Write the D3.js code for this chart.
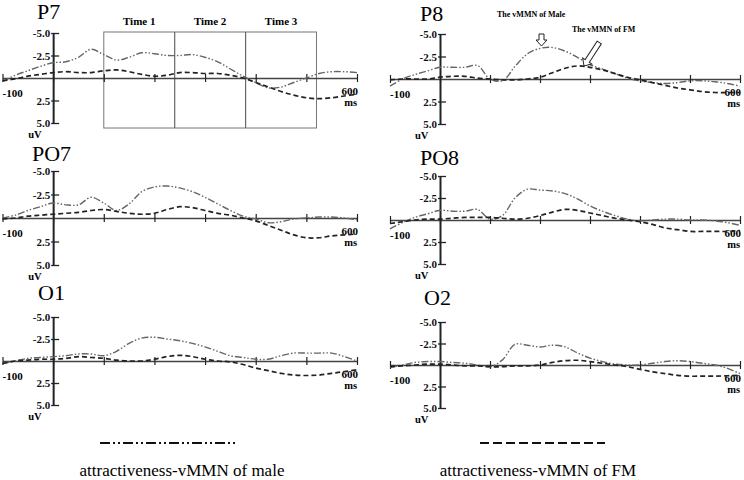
<!DOCTYPE html>
<html>
<head>
<meta charset="utf-8">
<script src="https://cdn.jsdelivr.net/npm/d3@7"></script>
<style>
  body { margin: 0; background: #fff; }
  svg { display: block; font-family: "Liberation Serif", "Times New Roman", serif; }
</style>
</head>
<body>
<svg id="chart" width="744" height="480"></svg>
<script>
// time points (ms)
const times = [-100, -75, -50, -25, 0, 25, 50, 75, 100, 125, 150, 175, 200, 225, 250,
    275, 300, 325, 350, 375, 400, 425, 450, 475, 500, 525, 550, 575, 600];

// uV values, negative is drawn up
const p7Male = [0.4, -0.3, -0.8, -1.3, -1.7, -1.8, -2.3, -3.2, -2.6, -2.0, -2.3, -2.8, -2.7, -2.5, -2.5,
    -2.6, -2.3, -1.8, -1.0, -0.2, 0.5, 1.1, 1.0, 0.5, 0.0, -0.5, -0.7, -0.7, -0.6];
const p7FM = [0.3, 0.1, -0.2, -0.4, -0.6, -0.7, -0.6, -0.6, -0.8, -0.9, -0.7, -0.4, -0.2, -0.3, -0.6,
    -0.6, -0.5, -0.5, -0.3, 0.0, 0.5, 1.0, 1.5, 1.9, 2.2, 2.3, 2.2, 2.0, 1.8];
const p8Male = [0.8, 0.0, -0.5, -0.9, -1.3, -1.3, -1.3, -1.5, 0.0, 0.2, -1.4, -2.8, -3.4, -3.5, -3.1,
    -2.4, -1.6, -1.1, -0.6, -0.1, 0.2, 0.4, 0.5, 0.4, 0.2, 0.2, 0.3, 0.5, 0.8];
const p8FM = [0.1, 0.0, 0.0, 0.0, -0.2, -0.3, -0.3, -0.1, 0.0, 0.1, 0.1, 0.0, -0.2, -0.7, -1.2,
    -1.45, -1.3, -1.0, -0.6, -0.2, 0.1, 0.4, 0.7, 1.0, 1.2, 1.4, 1.5, 1.5, 1.5];
const po7Male = [0.0, -0.3, -0.8, -1.2, -1.6, -1.4, -1.4, -2.2, -1.6, -0.8, -1.5, -2.8, -3.3, -3.4, -3.2,
    -2.8, -2.2, -1.5, -0.8, -0.2, 0.1, 0.5, 0.4, 0.1, 0.0, -0.1, -0.1, 0.0, 0.2];
const po7FM = [0.1, 0.0, -0.2, -0.3, -0.4, -0.5, -0.6, -0.8, -0.9, -0.7, -0.5, -0.4, -0.5, -0.9, -1.2,
    -1.1, -0.8, -0.5, -0.3, 0.0, 0.3, 0.8, 1.3, 1.8, 2.1, 2.1, 1.9, 1.8, 1.7];
const po8Male = [1.0, 0.3, -0.3, -0.7, -1.1, -1.0, -1.0, -1.2, -0.1, -0.5, -2.5, -3.5, -3.4, -3.3, -3.0,
    -2.4, -1.6, -1.0, -0.5, -0.1, 0.1, 0.0, -0.1, -0.1, 0.0, 0.0, 0.1, 0.3, 0.6];
const po8FM = [0.4, 0.2, 0.0, -0.1, -0.1, -0.2, -0.3, -0.3, -0.3, -0.2, -0.1, -0.2, -0.5, -0.9, -1.2,
    -1.1, -0.8, -0.5, -0.2, 0.0, 0.2, 0.5, 0.9, 1.1, 1.3, 1.3, 1.3, 1.3, 1.2];
const o1Male = [0.3, 0.0, -0.3, -0.4, -0.5, -0.6, -0.8, -0.8, -0.6, -1.1, -2.0, -2.6, -2.7, -2.5, -2.3,
    -2.0, -1.6, -1.1, -0.6, -0.4, -0.2, -0.2, -0.6, -0.9, -0.9, -0.9, -0.9, -0.5, 0.0];
const o1FM = [0.3, 0.0, -0.1, -0.2, -0.2, -0.3, -0.5, -0.4, -0.3, -0.1, 0.0, 0.0, -0.2, -0.5, -0.65,
    -0.5, -0.2, 0.0, 0.1, 0.4, 0.8, 1.1, 1.4, 1.6, 1.65, 1.6, 1.4, 1.2, 1.0];
const o2Male = [0.3, 0.0, -0.3, -0.4, -0.4, -0.3, -0.2, 0.0, 0.2, -0.6, -2.4, -2.3, -2.1, -2.3, -2.1,
    -1.4, -0.8, -0.4, -0.1, 0.0, 0.0, -0.2, -0.4, -0.5, -0.4, -0.2, 0.0, 0.4, 1.0];
const o2FM = [0.2, 0.1, 0.0, -0.1, -0.1, 0.0, 0.1, 0.1, 0.2, 0.2, 0.1, 0.1, 0.0, -0.3, -0.5,
    -0.55, -0.4, -0.2, 0.0, 0.2, 0.5, 0.8, 1.0, 1.2, 1.3, 1.3, 1.3, 1.25, 1.2];

// axis ticks
const xTicks = [-100, 0, 100, 200, 300, 400, 500, 600];
const yTicks = [-5, -2.5, 2.5, 5];
const yTickLabels = ["-5.0", "-2.5", "2.5", "5.0"];

// time windows drawn on P7
const windowEdges = [100, 240, 380, 520];
const windowLabels = ["Time 1", "Time 2", "Time 3"];

const legendLabels = ["attractiveness-vMMN of male", "attractiveness-vMMN of FM"];

const panels = [
    { name: "P7", male: p7Male, fm: p7FM, x: [2.5, 357], y: [33, 123], tx: 37, ty: 19 },
    { name: "P8", male: p8Male, fm: p8FM, x: [390, 740], y: [34, 124], tx: 420, ty: 21 },
    { name: "PO7", male: po7Male, fm: po7FM, x: [2.5, 357], y: [171, 265], tx: 32, ty: 161 },
    { name: "PO8", male: po8Male, fm: po8FM, x: [390, 740], y: [176, 264], tx: 420, ty: 165 },
    { name: "O1", male: o1Male, fm: o1FM, x: [2.5, 357], y: [317, 405], tx: 38, ty: 300 },
    { name: "O2", male: o2Male, fm: o2FM, x: [390, 740], y: [322, 408], tx: 424, ty: 305 }
];

const maleDash = "7,2,1.5,2,1.5,2";
const fmDash = "5,3";

const svg = d3.select("#chart");

panels.forEach(p => {
    const xScale = d3.scaleLinear().domain([-100, 600]).range(p.x);
    const yScale = d3.scaleLinear().domain([-5, 5]).range(p.y);
    const g = svg.append("g");

    g.append("text")
        .attr("x", p.tx)
        .attr("y", p.ty)
        .attr("font-size", 22)
        .text(p.name);

    // time boxes (only P7)
    if (p.name === "P7") {
        const top = 32, bottom = 128;
        g.append("rect")
            .attr("x", xScale(windowEdges[0]))
            .attr("y", top)
            .attr("width", xScale(windowEdges[3]) - xScale(windowEdges[0]))
            .attr("height", bottom - top)
            .attr("fill", "none")
            .attr("stroke", "#777")
            .attr("stroke-width", 1);
        g.selectAll(".win")
            .data(windowEdges.slice(1, 3))
            .enter()
            .append("line")
            .attr("x1", d => xScale(d))
            .attr("x2", d => xScale(d))
            .attr("y1", top)
            .attr("y2", bottom)
            .attr("stroke", "#666")
            .attr("stroke-width", 1.2);
        g.selectAll(".winlab")
            .data(windowLabels)
            .enter()
            .append("text")
            .attr("x", (d, i) => (xScale(windowEdges[i]) + xScale(windowEdges[i + 1])) / 2)
            .attr("y", 25)
            .attr("text-anchor", "middle")
            .attr("font-size", 11)
            .attr("font-weight", "bold")
            .text(d => d);
    }

    // x axis along 0 uV
    const xAxis = g.append("g")
        .attr("transform", "translate(0," + yScale(0) + ")")
        .call(d3.axisBottom(xScale).tickValues(xTicks).tickSizeInner(4).tickSizeOuter(0).tickFormat(""));
    xAxis.select(".domain").attr("stroke", "#444").attr("stroke-width", 1.4);
    xAxis.selectAll(".tick line").attr("y1", -4).attr("stroke", "#222").attr("stroke-width", 1.2);

    // y axis at 0 ms
    const yAxis = g.append("g")
        .attr("transform", "translate(" + xScale(0) + ",0)")
        .call(d3.axisLeft(yScale).tickValues(yTicks).tickSizeInner(-6).tickSizeOuter(0).tickPadding(3)
            .tickFormat((d, i) => yTickLabels[i]));
    yAxis.select(".domain").attr("stroke", "#222").attr("stroke-width", 2);
    yAxis.selectAll(".tick line").attr("x1", -2).attr("stroke", "#222").attr("stroke-width", 1.3);
    yAxis.selectAll(".tick text")
        .attr("font-family", "Liberation Serif, serif")
        .attr("font-size", 11)
        .attr("font-weight", "bold")
        .attr("fill", "#111");

    g.append("text")
        .attr("x", xScale(0) - 25)
        .attr("y", yScale(5) + 15)
        .attr("font-size", 10.5)
        .attr("font-weight", "bold")
        .text("uV");

    g.append("text")
        .attr("x", xScale(-100))
        .attr("y", yScale(0) + 19)
        .attr("font-size", 11)
        .attr("font-weight", "bold")
        .text("-100");
    g.append("text")
        .attr("x", xScale(600) + 1)
        .attr("y", yScale(0) + 17)
        .attr("text-anchor", "end")
        .attr("font-size", 11)
        .attr("font-weight", "bold")
        .text("600");
    g.append("text")
        .attr("x", xScale(600))
        .attr("y", yScale(0) + 28)
        .attr("text-anchor", "end")
        .attr("font-size", 10.5)
        .attr("font-weight", "bold")
        .text("ms");

    const line = d3.line()
        .x((d, i) => xScale(times[i]))
        .y(d => yScale(d))
        .curve(d3.curveCatmullRom);

    g.append("path")
        .attr("d", line(p.male))
        .attr("fill", "none")
        .attr("stroke", "#666")
        .attr("stroke-width", 1.4)
        .attr("stroke-dasharray", maleDash);

    g.append("path")
        .attr("d", line(p.fm))
        .attr("fill", "none")
        .attr("stroke", "#222")
        .attr("stroke-width", 1.7)
        .attr("stroke-dasharray", fmDash);

    // arrows on P8
    if (p.name === "P8") {
        g.append("text")
            .attr("x", 497).attr("y", 17)
            .attr("font-size", 8).attr("font-weight", "bold")
            .text("The vMMN of Male");
        g.append("text")
            .attr("x", 572).attr("y", 32)
            .attr("font-size", 8).attr("font-weight", "bold")
            .text("The vMMN of FM");
        // hollow arrow shape pointing along +y, tip at origin
        const arrow = len => "M0,0 L-5.5,-6 L-2.5,-6 L-2.5," + (-len) + " L2.5," + (-len) + " L2.5,-6 L5.5,-6 Z";
        g.append("path")
            .attr("d", arrow(12))
            .attr("transform", "translate(" + xScale(203) + "," + 46 + ")")
            .attr("fill", "#fff").attr("stroke", "#222").attr("stroke-width", 1);
        g.append("path")
            .attr("d", arrow(28))
            .attr("transform", "translate(" + xScale(288) + "," + 66 + ") rotate(33)")
            .attr("fill", "#fff").attr("stroke", "#222").attr("stroke-width", 1);
    }
});

// legend
const legendX = [[100, 235], [480, 605]];
svg.selectAll(".legline")
    .data(legendLabels)
    .enter()
    .append("line")
    .attr("x1", (d, i) => legendX[i][0])
    .attr("x2", (d, i) => legendX[i][1])
    .attr("y1", 443)
    .attr("y2", 443)
    .attr("stroke", "#111")
    .attr("stroke-width", 2)
    .attr("stroke-dasharray", (d, i) => i === 0 ? "10,3,2,3,2,3" : "9,4");

svg.selectAll(".legtext")
    .data(legendLabels)
    .enter()
    .append("text")
    .attr("x", (d, i) => i === 0 ? 182 : 538)
    .attr("y", 476)
    .attr("text-anchor", "middle")
    .attr("font-size", 17)
    .text(d => d);
</script>
</body>
</html>
